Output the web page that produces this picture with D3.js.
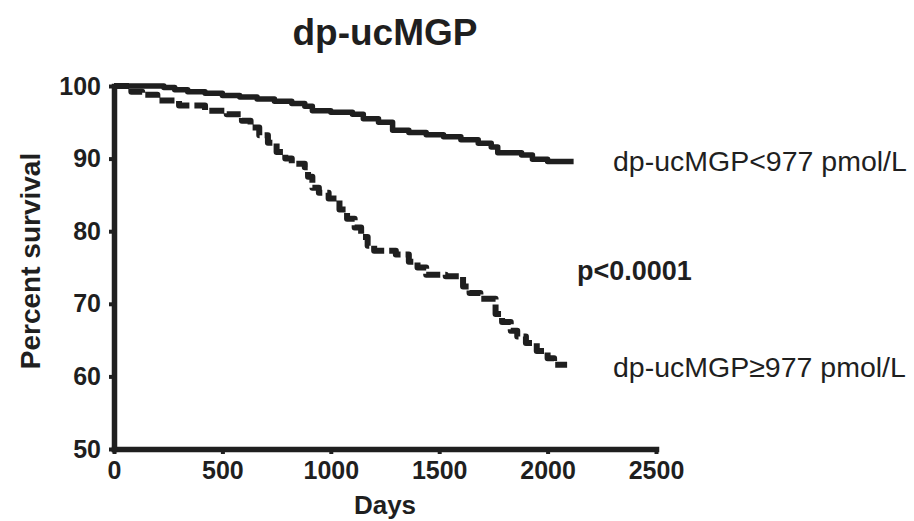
<!DOCTYPE html>
<html>
<head>
<meta charset="utf-8">
<script src="https://cdn.jsdelivr.net/npm/d3@7"></script>
<style>
  body { margin: 0; background: #fff; }
  text { font-family: "Liberation Sans", Arial, sans-serif; fill: #1f1f1f; }
</style>
</head>
<body>
<div id="chart"></div>
<script>
// =========================
// DATA (Kaplan-Meier steps: [days, percent survival])
// =========================
const lowGroup = [
  [0, 100], [230, 99.8], [280, 99.5], [340, 99.2], [420, 99.0], [500, 98.7],
  [580, 98.5], [660, 98.2], [740, 97.9], [820, 97.6], [880, 97.2], [915, 96.6],
  [1000, 96.4], [1100, 96.1], [1150, 95.5], [1220, 95.0], [1285, 93.9], [1360, 93.6],
  [1440, 93.3], [1520, 93.0], [1600, 92.6], [1680, 92.1], [1740, 91.6], [1770, 90.8],
  [1880, 90.5], [1930, 89.9], [2000, 89.6], [2120, 89.6]
];

const highGroup = [
  [0, 100], [80, 99.2], [130, 98.8], [200, 98.0], [300, 97.3], [420, 96.6],
  [520, 96.1], [590, 95.2], [630, 94.3], [670, 93.2], [710, 92.2], [750, 90.9],
  [790, 90.0], [820, 89.3], [880, 88.8], [895, 87.5], [915, 86.0], [945, 85.3],
  [990, 84.5], [1040, 83.0], [1075, 81.7], [1110, 80.5], [1140, 79.2], [1170, 78.0],
  [1200, 77.3], [1300, 76.8], [1360, 75.8], [1400, 75.0], [1440, 74.0], [1530, 73.8],
  [1610, 72.4], [1640, 71.5], [1690, 70.7], [1760, 68.6], [1790, 67.5], [1830, 66.3],
  [1860, 65.5], [1900, 64.6], [1950, 63.5], [2000, 62.5], [2030, 61.6], [2090, 61.6]
];

const xTicks = [0, 500, 1000, 1500, 2000, 2500];
const yTicks = [50, 60, 70, 80, 90, 100];

const titleText = "dp-ucMGP";
const lowLabel = "dp-ucMGP<977 pmol/L";
const highLabel = "dp-ucMGP\u2265977 pmol/L";
const pText = "p<0.0001";

// =========================
// SVG SETUP
// =========================
const W = 914, H = 521;
const margin = {top: 86, right: 258, bottom: 72, left: 114};
const width = W - margin.left - margin.right;
const height = H - margin.top - margin.bottom;

const root = d3.select("#chart")
  .append("svg")
  .attr("width", W)
  .attr("height", H);

const svg = root.append("g")
  .attr("transform", `translate(${margin.left},${margin.top})`);

// =========================
// SCALES
// =========================
const x = d3.scaleLinear().domain([0, 2500]).range([0, width]);
const y = d3.scaleLinear().domain([50, 100]).range([height, 0]);

// =========================
// AXES
// =========================
const xAxis = svg.append("g")
  .attr("transform", `translate(0,${height})`)
  .call(d3.axisBottom(x).tickValues(xTicks).tickFormat(d3.format("d"))
    .tickSize(5).tickPadding(7).tickSizeOuter(0));

const yAxis = svg.append("g")
  .call(d3.axisLeft(y).tickValues(yTicks).tickFormat(d3.format("d"))
    .tickSize(5).tickPadding(8).tickSizeOuter(0));

[xAxis, yAxis].forEach(a => {
  a.select(".domain").attr("stroke", "#1f1f1f").attr("stroke-width", 5.5).attr("stroke-linecap", "square");
  a.selectAll(".tick line").attr("stroke", "#1f1f1f").attr("stroke-width", 4);
  a.selectAll("text")
    .style("font-size", "25px")
    .style("font-weight", "bold")
    .style("fill", "#1f1f1f");
});
xAxis.selectAll("text").attr("dy", "0.7em");

// =========================
// CURVES
// =========================
const line = d3.line()
  .x(d => x(d[0]))
  .y(d => y(d[1]))
  .curve(d3.curveStepAfter);

svg.append("path")
  .datum(lowGroup)
  .attr("fill", "none")
  .attr("stroke", "#1f1f1f")
  .attr("stroke-width", 5.5)
  .attr("stroke-linejoin", "round")
  .attr("d", line);

svg.append("path")
  .datum(highGroup)
  .attr("fill", "none")
  .attr("stroke", "#1f1f1f")
  .attr("stroke-width", 6)
  .attr("stroke-dasharray", "15,5")
  .attr("stroke-linejoin", "round")
  .attr("d", line);

// =========================
// LABELS
// =========================
root.append("text")
  .attr("x", 385)
  .attr("y", 45)
  .attr("text-anchor", "middle")
  .style("font-size", "37px")
  .style("font-weight", "bold")
  .text(titleText);

root.append("text")
  .attr("x", margin.left + width / 2)
  .attr("y", 514)
  .attr("text-anchor", "middle")
  .style("font-size", "26px")
  .style("font-weight", "bold")
  .text("Days");

root.append("text")
  .attr("transform", "rotate(-90)")
  .attr("x", -261)
  .attr("y", 40)
  .attr("text-anchor", "middle")
  .style("font-size", "28px")
  .style("font-weight", "bold")
  .text("Percent survival");

// end-of-curve labels
const last = arr => arr[arr.length - 1];

root.append("text")
  .attr("x", 613)
  .attr("y", margin.top + y(last(lowGroup)[1]) + 9)
  .style("font-size", "28.5px")
  .text(lowLabel);

root.append("text")
  .attr("x", 613)
  .attr("y", margin.top + y(last(highGroup)[1]) + 12)
  .style("font-size", "28.5px")
  .text(highLabel);

root.append("text")
  .attr("x", 577)
  .attr("y", 280)
  .style("font-size", "27px")
  .style("font-weight", "bold")
  .text(pText);
</script>
</body>
</html>
